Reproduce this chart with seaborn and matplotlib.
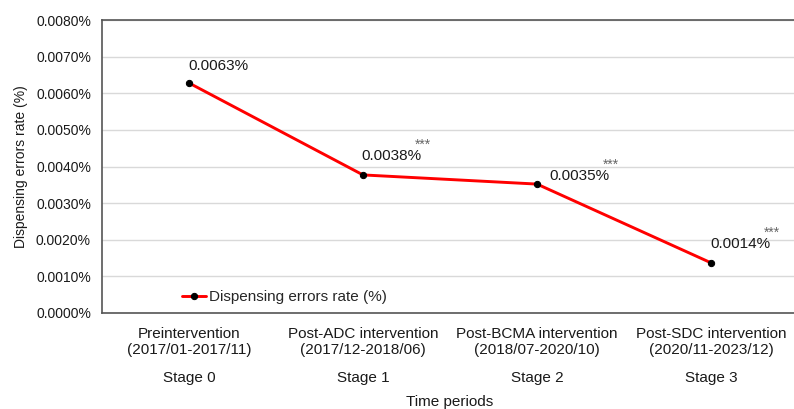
import numpy as np
import pandas as pd
import matplotlib
matplotlib.use("Agg")
import matplotlib.pyplot as plt
import seaborn as sns

periods = ["Preintervention\n(2017/01-2017/11)",
           "Post-ADC intervention\n(2017/12-2018/06)",
           "Post-BCMA intervention\n(2018/07-2020/10)",
           "Post-SDC intervention\n(2020/11-2023/12)"]
stage_names = ["Stage 0", "Stage 1", "Stage 2", "Stage 3"]
stage = [0, 1, 2, 3]
error_rate = [0.00628, 0.00377, 0.00352, 0.00137]
value_labels = ["0.0063%", "0.0038%", "0.0035%", "0.0014%"]
signif = ["", "***", "***", "***"]
yticks = [0.0, 0.001, 0.002, 0.003, 0.004, 0.005, 0.006, 0.007, 0.008]

sns.set_style("white")
plt.rcParams["font.family"] = ["Liberation Sans", "DejaVu Sans"]
txt = "#1a1a1a"

df = pd.DataFrame({"stage": stage, "rate": error_rate})

fig = plt.figure(figsize=(7.94, 4.09), dpi=100)
ax = fig.add_axes([102 / 794, 1 - 313 / 409, 696 / 794, 293 / 409])

sns.lineplot(data=df, x="stage", y="rate", ax=ax, color="#ff0000", lw=2.1,
             marker="o", markersize=4.5, markerfacecolor="black",
             markeredgecolor="black", label="Dispensing errors rate (%)")

ax.set_xlim(-0.5, 3.5)
ax.set_ylim(0, 0.008)
ax.set_yticks(yticks)
ax.set_yticklabels([f"{v:.4f}%" for v in yticks], fontsize=10, color=txt)
ax.xaxis.remove_overlapping_locs = False
ax.set_xticks(stage)
ax.set_xticklabels(periods, fontsize=11, color=txt, linespacing=1.2)
ax.set_xticks(stage, minor=True)
ax.set_xticklabels(stage_names, minor=True, fontsize=11, color=txt)
ax.tick_params(axis="x", which="major", length=0, pad=10)
ax.tick_params(axis="x", which="minor", length=0, pad=42)
ax.tick_params(axis="y", length=0, pad=8)
ax.yaxis.grid(True, color="#d9d9d9", lw=1)
ax.set_axisbelow(True)
for s in ["left", "bottom", "top"]:
    ax.spines[s].set_color("#555555")
    ax.spines[s].set_linewidth(1.2)
ax.spines["right"].set_visible(False)

ax.set_ylabel("Dispensing errors rate (%)", fontsize=10, color=txt, labelpad=6)
ax.set_xlabel("Time periods", fontsize=11, color=txt, labelpad=7)

offsets = [(-1, 13), (-2, 15), (12, 4), (-1, 15)]
for xi, yi, lab, st, off in zip(stage, error_rate, value_labels, signif, offsets):
    t = ax.annotate(lab, (xi, yi), xytext=off, textcoords="offset pixels",
                    fontsize=11, color=txt, ha="left", va="baseline")
    if st:
        ax.annotate(st, xy=(1, 1), xycoords=t, xytext=(2, 0),
                    textcoords="offset pixels", fontsize=10,
                    color="#666666", ha="center", va="baseline")

leg = ax.legend(loc="center left", bbox_to_anchor=(0.095, 0.053), frameon=False,
                fontsize=11, handlelength=1.6, handletextpad=0.15)

fig.savefig("out.png", dpi=100)
